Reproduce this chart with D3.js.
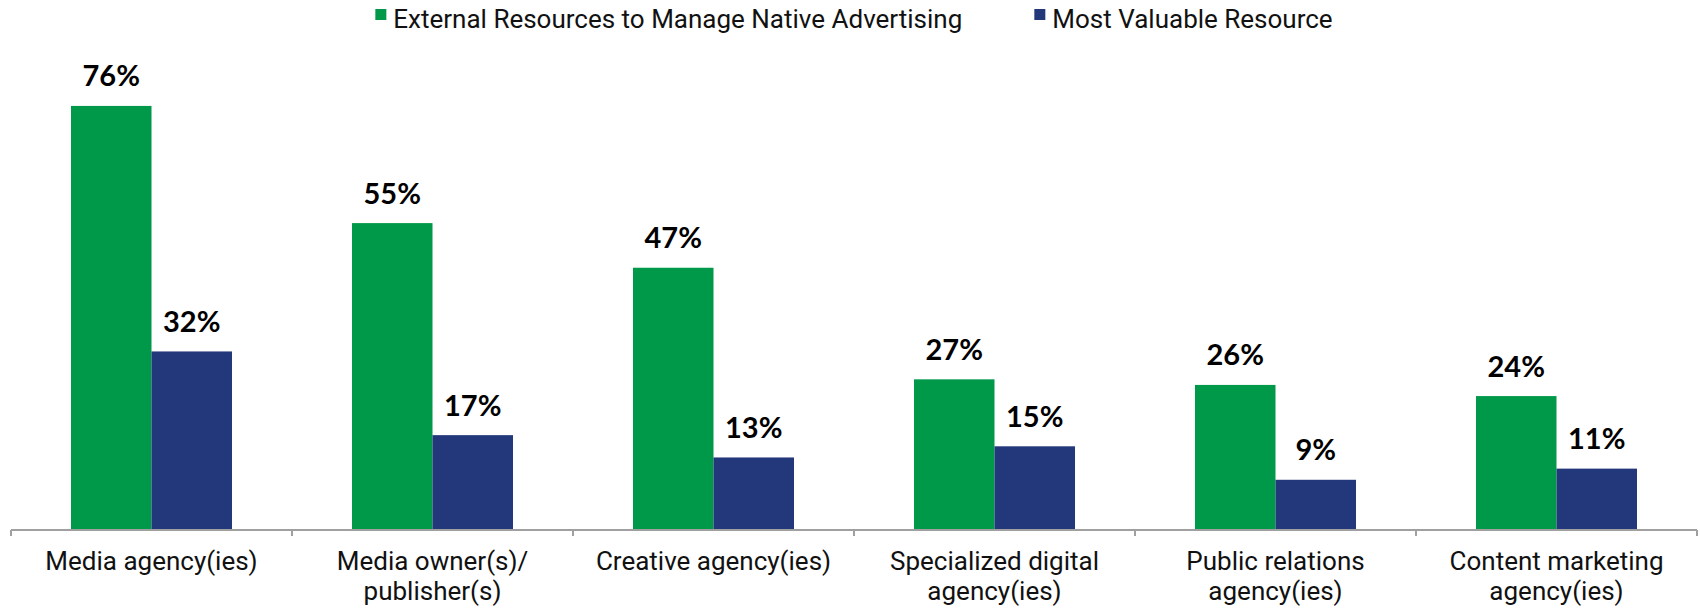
<!DOCTYPE html>
<html>
<head>
<meta charset="utf-8">
<script src="https://cdn.jsdelivr.net/npm/d3@7"></script>
<style>
  body { margin: 0; background: #fff; }
  .cat text { font-family: Roboto, sans-serif; font-size: 26px; fill: #111; }
  .legend text { font-family: Roboto, sans-serif; font-size: 26px; fill: #111; }
  .val { font-family: Lato, sans-serif; font-weight: 700; font-size: 29px; fill: #000; }
</style>
</head>
<body>
<svg width="1700" height="608"></svg>
<script>
var categories = [
  ["Media agency(ies)"],
  ["Media owner(s)/", "publisher(s)"],
  ["Creative agency(ies)"],
  ["Specialized digital", "agency(ies)"],
  ["Public relations", "agency(ies)"],
  ["Content marketing", "agency(ies)"]
];
var series = ["External Resources to Manage Native Advertising", "Most Valuable Resource"];
var externalResources = [76, 55, 47, 27, 26, 24];
var mostValuable = [32, 17, 13, 15, 9, 11];
var colors = ["#009849", "#22387a"];

var svg = d3.select("svg"),
  width = +svg.attr("width"),
  height = +svg.attr("height");

var axisY = 530;
var catIds = categories.map((c, i) => i);

var x = d3.scaleBand().domain(catIds).range([11, 1697]).padding(0);
var bw = x.bandwidth();
var barW = bw * 0.2865;
var x1 = d3.scaleBand().domain([0, 1]).range([bw / 2 - barW, bw / 2 + barW]);
var y = d3.scaleLinear().domain([0, 80]).range([axisY, axisY - 80 * 5.58]);

var rows = catIds.map(i => [externalResources[i], mostValuable[i]]);

// bars
var groups = svg.append("g").selectAll("g")
  .data(rows)
  .enter().append("g")
  .attr("transform", (d, i) => "translate(" + x(i) + ",0)");

groups.selectAll("rect")
  .data(d => d.map((v, s) => ({v: v, s: s})))
  .enter().append("rect")
  .attr("x", d => x1(d.s))
  .attr("width", x1.bandwidth())
  .attr("y", d => y(d.v))
  .attr("height", d => axisY - y(d.v))
  .attr("fill", d => colors[d.s]);

groups.selectAll("text.val")
  .data(d => d.map((v, s) => ({v: v, s: s})))
  .enter().append("text")
  .attr("class", "val")
  .attr("x", d => x1(d.s) + x1.bandwidth() / 2)
  .attr("y", d => y(d.v) - 19.5)
  .attr("text-anchor", "middle")
  .text(d => d.v + "%");

// axis: labels at centre, ticks at category boundaries
var ax = svg.append("g").attr("class", "cat")
  .attr("transform", "translate(0," + axisY + ")")
  .call(d3.axisBottom(x).tickSize(0).tickFormat(""));
ax.select(".domain").remove();

ax.selectAll(".tick").each(function (i) {
  var t = d3.select(this).append("text")
    .attr("text-anchor", "middle")
    .attr("fill", "#111");
  categories[i].forEach((line, k) => {
    t.append("tspan").attr("x", 0).attr("y", 40 + k * 30).text(line);
  });
});

var bounds = catIds.map(i => x(i)).concat([x(catIds[catIds.length - 1]) + bw]);
ax.append("line")
  .attr("x1", bounds[0]).attr("x2", bounds[bounds.length - 1])
  .attr("y1", 0).attr("y2", 0)
  .attr("stroke", "#a0a0a0").attr("stroke-width", 2);
ax.selectAll(".bound").data(bounds).enter().append("line")
  .attr("class", "bound")
  .attr("x1", d => d).attr("x2", d => d)
  .attr("y1", 0).attr("y2", 6)
  .attr("stroke", "#a0a0a0").attr("stroke-width", 2);

// legend, centred over the plot
var legend = svg.append("g").attr("class", "legend");
var items = legend.selectAll("g").data(series).enter().append("g");
items.append("rect")
  .attr("width", 11).attr("height", 11)
  .attr("y", 9)
  .attr("fill", (d, i) => colors[i]);
items.append("text")
  .attr("x", 18).attr("y", 28)
  .text(d => d);

var offs = 0, gap = 72, offsets = [];
items.each(function () {
  offsets.push(offs);
  offs += this.getBBox().width + gap;
});
var total = offs - gap;
var cx = (x.range()[0] + x.range()[1]) / 2;
items.attr("transform", (d, i) => "translate(" + (cx - total / 2 + offsets[i]) + ",0)");
</script>
</body>
</html>
